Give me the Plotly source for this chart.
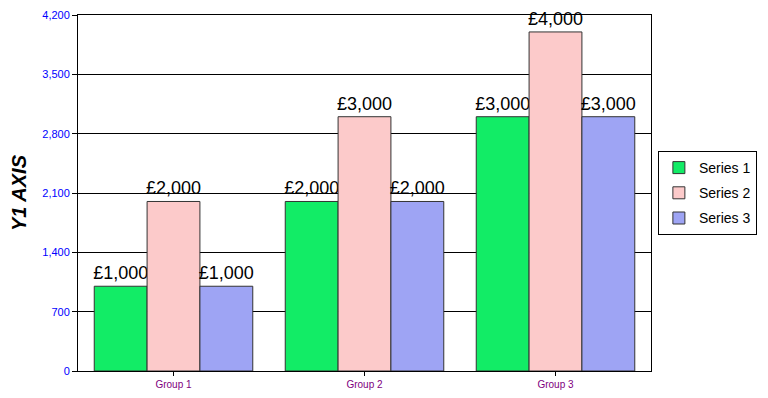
import plotly.graph_objects as go

groups = ["Group 1", "Group 2", "Group 3"]
series_names = ["Series 1", "Series 2", "Series 3"]
series_values = [
    [1000, 2000, 3000],
    [2000, 3000, 4000],
    [1000, 2000, 3000],
]
colors = ["#12ec66", "#fccaca", "#9ea4f4"]
y_ticks = [0, 700, 1400, 2100, 2800, 3500, 4200]

FONT = "Arial, Liberation Sans, sans-serif"

fig = go.Figure()
for name, vals, col in zip(series_names, series_values, colors):
    fig.add_trace(go.Bar(
        x=groups, y=vals, name=name, legendgroup=name,
        marker=dict(color=col, line=dict(color="#333333", width=1)),
        texttemplate="£%{y:,}", textposition="outside",
        textfont=dict(family=FONT, size=18, color="black"),
        constraintext="none", cliponaxis=False,
    ))

fig.update_layout(
    width=768, height=398,
    margin=dict(l=78, r=117, t=15, b=27, autoexpand=False),
    paper_bgcolor="white", plot_bgcolor="white",
    barmode="group", bargap=0.17, bargroupgap=0,
    font=dict(family=FONT),
    showlegend=True,
    legend=dict(
        x=1.012, y=0.5, xanchor="left", yanchor="middle",
        bordercolor="black", borderwidth=1,
        font=dict(family=FONT, size=14, color="black"),
        tracegroupgap=4,
    ),
    xaxis=dict(
        showline=True, linecolor="black", linewidth=1, mirror=True,
        ticks="outside", ticklen=4, tickcolor="black",
        tickfont=dict(family=FONT, size=10, color="#800080"),
        showgrid=False, automargin=False,
    ),
    yaxis=dict(
        range=[0, 4200], tickvals=y_ticks, tickformat=",",
        showline=True, linecolor="black", linewidth=1, mirror=True,
        ticks="outside", ticklen=5, tickcolor="black",
        tickfont=dict(family=FONT, size=11, color="#0000ff"),
        showgrid=True, gridcolor="black", gridwidth=1,
        zeroline=False, automargin=False,
        title=dict(text="<b><i>Y1 AXIS</i></b>",
                   font=dict(family=FONT, size=20, color="black"),
                   standoff=10),
    ),
)

fig.write_html("out.html", config={"displayModeBar": False},
               post_script="document.body.style.margin='0';")
